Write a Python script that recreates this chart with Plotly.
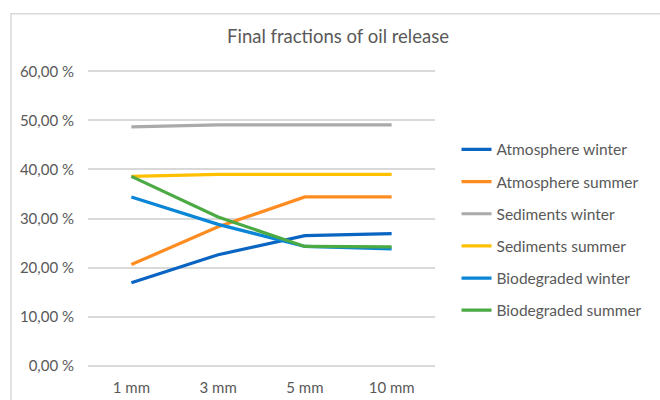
import plotly.graph_objects as go

# Droplet size categories
sizes = ["1 mm", "3 mm", "5 mm", "10 mm"]

# Final fractions (%) for each compartment and season
atmosphere_winter = [16.9, 22.6, 26.5, 26.9]
atmosphere_summer = [20.6, 28.3, 34.4, 34.4]
sediments_winter = [48.7, 49.1, 49.1, 49.1]
sediments_summer = [38.6, 39.0, 39.0, 39.0]
biodegraded_winter = [34.4, 28.8, 24.3, 23.8]
biodegraded_summer = [38.6, 30.3, 24.3, 24.2]

series_names = [
    "Atmosphere winter", "Atmosphere summer",
    "Sediments winter", "Sediments summer",
    "Biodegraded winter", "Biodegraded summer",
]
series_values = [
    atmosphere_winter, atmosphere_summer,
    sediments_winter, sediments_summer,
    biodegraded_winter, biodegraded_summer,
]
series_colors = ["#0A64C2", "#FF8C21", "#AAAAAA", "#FFC000", "#0B86D6", "#4CAA44"]

y_tick_values = [0, 10, 20, 30, 40, 50, 60]
y_tick_labels = ["0,00 %", "10,00 %", "20,00 %", "30,00 %", "40,00 %", "50,00 %", "60,00 %"]

fig = go.Figure()
for name, vals, col in zip(series_names, series_values, series_colors):
    fig.add_trace(go.Scatter(
        x=sizes, y=vals, name=name, mode="lines",
        legendgroup=name,
        line=dict(color=col, width=3.2),
    ))

font_family = "Lato, 'Open Sans', sans-serif"
text_color = "#595959"

fig.update_layout(
    width=660, height=400,
    margin=dict(l=88, r=225, t=68.5, b=31.5),
    paper_bgcolor="white", plot_bgcolor="white",
    font=dict(family=font_family, color=text_color, size=15),
    title=dict(
        text="Final fractions of oil release",
        x=338 / 660, xanchor="center", y=1 - 37 / 400, yanchor="middle",
        font=dict(size=18.5, color=text_color, family=font_family),
    ),
    legend=dict(
        x=1.062, xanchor="left", y=0.462, yanchor="middle",
        font=dict(size=15.5, color=text_color),
        itemwidth=30, traceorder="grouped", tracegroupgap=9,
        bgcolor="rgba(0,0,0,0)",
    ),
    showlegend=True,
)

fig.update_xaxes(
    type="category", range=[-0.5, 3.5], automargin=False,
    showgrid=False, zeroline=False, showline=False,
    ticks="", ticklabelstandoff=9,
    tickfont=dict(size=15, color=text_color),
)
fig.update_yaxes(
    range=[-0.5, 60.5], automargin=False,
    tickvals=y_tick_values, ticktext=y_tick_labels,
    showgrid=True, gridcolor="#D9D9D9", gridwidth=1.5,
    zeroline=False, showline=False,
    ticks="", ticklabelstandoff=13,
    tickfont=dict(size=15, color=text_color),
)

# Light chart-area frame
fig.add_shape(
    type="rect", xref="paper", yref="paper",
    x0=(11 - 88) / 347, x1=(700 - 88) / 347,
    y0=-0.3, y1=1 + (68.5 - 13) / 300,
    line=dict(color="#D9D9D9", width=1.5),
    fillcolor="rgba(0,0,0,0)", layer="below",
)

fig.write_html("out.html")
